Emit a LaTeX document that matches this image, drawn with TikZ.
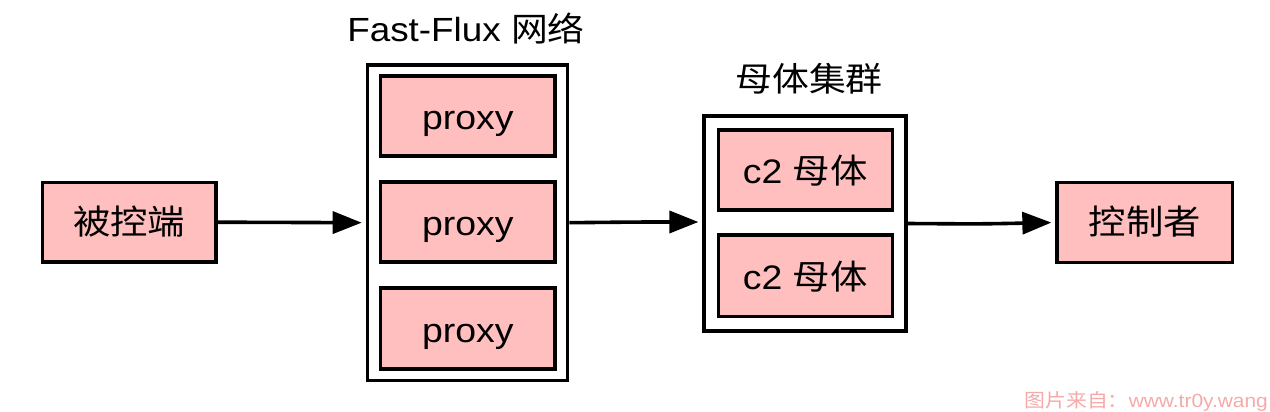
\documentclass[tikz,border=0pt]{standalone}
\usepackage{fontspec}
\usetikzlibrary{arrows.meta}
\setmainfont[FakeStretch=1.1]{Liberation Sans}
\newfontfamily\cjk[FakeStretch=1.1]{Noto Sans CJK SC}
\definecolor{boxfill}{HTML}{FFBFBF}
\definecolor{wm}{HTML}{F6A9A9}
\begin{document}
\begin{tikzpicture}[x=1pt,y=-1pt,
  pbox/.style={draw=black,fill=boxfill,line width=3.6pt,rectangle,inner sep=0pt,
    font=\fontsize{34}{40}\selectfont,text height=27.5pt,text depth=0pt},
  cjkbox/.style={pbox,text height=24pt},
  gbox/.style={draw=black,fill=white,line width=3.6pt,rectangle,inner sep=0pt},
  lbl/.style={font=\fontsize{33.5}{40}\selectfont,inner sep=0pt,anchor=base},
  arr/.style={line width=3.6pt,-{Triangle[length=29pt,width=22pt]},shorten >=4pt}]
\useasboundingbox (0,0) rectangle (1270,412);
% groups
\node[gbox,minimum width=200pt,minimum height=315.7pt] (ff) at (467.5,222.7) {};
\node[gbox,minimum width=201.6pt,minimum height=214.6pt] (cl) at (805,223.5) {};
% inner boxes
\node[pbox,minimum width=174.5pt,minimum height=80pt] (p1) at (467.75,116.2) {proxy};
\node[pbox,minimum width=174.5pt,minimum height=79.5pt] (p2) at (467.75,222) {proxy};
\node[pbox,minimum width=174.5pt,minimum height=81pt] (p3) at (467.75,328.7) {proxy};
\node[pbox,minimum width=174pt,minimum height=80pt] (c1) at (805.3,169.7) {c2 {\cjk 母体}};
\node[pbox,minimum width=174pt,minimum height=81.3pt] (c2) at (805.3,275.7) {c2 {\cjk 母体}};
\node[cjkbox,minimum width=173.3pt,minimum height=79.3pt] (bk) at (129.2,222.2) {\cjk 被控端};
\node[cjkbox,minimum width=175.3pt,minimum height=80pt] (kz) at (1144.8,222.5) {\cjk 控制者};
% labels
\node[lbl] (ffl) at (466,42) {Fast-Flux {\cjk 网络}};
\node[lbl] (cll) at (809,92) {\cjk 母体集群};
% arrows
\draw[arr] (bk.east) -- (ff.west);
\draw[arr] (ff.east) .. controls (640,222) .. ([yshift=1.5pt]cl.west);
\draw[arr] (cl.east) .. controls (980,224) .. (kz.west);
% watermark
\node[font=\fontsize{19}{23}\selectfont,text=wm,anchor=base east,inner sep=0pt] (wmk) at (1268,407) {{\cjk 图片来自：}www.tr0y.wang};
\end{tikzpicture}
\end{document}
